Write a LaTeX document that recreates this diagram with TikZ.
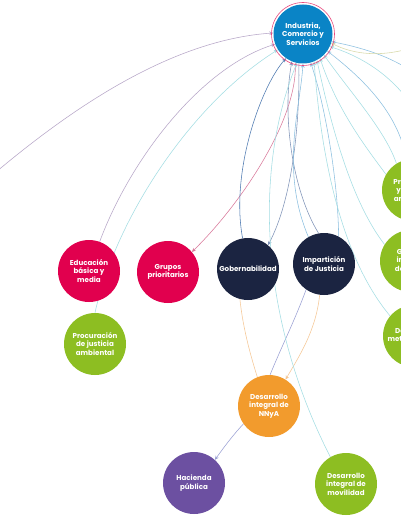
\documentclass[tikz,border=0pt]{standalone}
\usepackage{fontspec}
\setmainfont{Poppins}
\usetikzlibrary{arrows.meta,backgrounds}
\definecolor{indblue}{HTML}{0A84C6}
\definecolor{ringpink}{HTML}{E94B7E}
\definecolor{crim}{HTML}{E1004E}
\definecolor{navy}{HTML}{1B2441}
\definecolor{lgreen}{HTML}{8DBE22}
\definecolor{orng}{HTML}{F29B2D}
\definecolor{purp}{HTML}{6C50A1}
\definecolor{ecyan}{HTML}{A3DDE3}
\definecolor{eblue}{HTML}{8CC0E0}
\definecolor{elav}{HTML}{B7A6C8}
\definecolor{epink}{HTML}{D9789A}
\definecolor{edark}{HTML}{4C78B0}
\definecolor{egrey}{HTML}{7F93B8}
\definecolor{eorange}{HTML}{F6C795}
\definecolor{eviolet}{HTML}{9AA0D4}
\definecolor{eyellow}{HTML}{D8D9A8}
\tikzset{
  topic/.style={circle, minimum size=62pt, inner sep=0pt, align=center, text=white,
    font=\fontsize{7.1}{8.4}\selectfont\bfseries},
  link/.style={line width=0.55pt},
  tip/.style={-{Stealth[length=4pt,width=3.6pt]}},
}
\begin{document}
\begin{tikzpicture}[x=1pt,y=-1pt]
\useasboundingbox (0,0) rectangle (400,516);
% nodes
\node[topic, fill=indblue, minimum size=59pt] (ind) at (303,34) {Industria,\\Comercio y\\Servicios};
\draw[ringpink, line width=0.6pt] (ind.center) circle[radius=31.5pt];
\node[topic, fill=crim] (edu) at (89,271) {Educación\\básica y\\media};
\node[topic, fill=crim] (grp) at (168,272) {Grupos\\prioritarios};
\node[topic, fill=navy] (gob) at (248,269) {Gobernabilidad};
\node[topic, fill=navy] (imp) at (324,264) {Impartición\\de Justicia};
\node[topic, fill=lgreen] (proc) at (95,344) {Procuración\\de justicia\\ambiental};
\node[topic, fill=orng] (nnya) at (269,406) {Desarrollo\\integral de\\NNyA};
\node[topic, fill=purp] (hac) at (194,483) {Hacienda\\pública};
\node[topic, fill=lgreen] (mov) at (346,484) {Desarrollo\\integral de\\movilidad};
\node[topic, fill=lgreen] (pro) at (413,190) {Protección\\y gestión\\ambiental};
\node[topic, fill=lgreen] (ges) at (411,261) {Gestión\\integral\\del agua};
\node[topic, fill=lgreen] (met) at (414,336) {Desarrollo\\metropolitano};
\coordinate (offL) at (-4,172);
\coordinate (offR1) at (425,128);
\coordinate (offR2) at (432,92);
\coordinate (offR3) at (404,50);
\begin{scope}[on background layer]
  \fill[white] (0,0) rectangle (400,516);
  % left arcs
  \draw[link, tip, elav] (offL) .. controls (70,110) and (170,40) .. (ind.178);
  \draw[link, tip, elav] (edu.70) .. controls (130,160) and (200,68) .. (ind.200);
  \draw[link, tip, ecyan] (proc.north) .. controls (115,220) and (190,105) .. (ind.212);
  % to grupos
  \draw[link, tip, epink] (ind.255) .. controls (298,120) and (240,205) .. (grp.40);
  % gobernabilidad
  \draw[link, tip, edark] (gob.100) .. controls (230,170) and (262,85) .. (ind.235);
  \draw[link, tip, egrey] (ind.262) .. controls (300,125) and (292,200) .. (gob.50);
  % imparticion
  \draw[link, tip, egrey] (imp.100) .. controls (292,190) and (282,115) .. (ind.248);
  \draw[link, tip, eblue] (imp.62) .. controls (338,180) and (325,105) .. (ind.285);
  \draw[link, tip, eblue] (imp.120) .. controls (280,170) and (300,110) .. (ind.270);
  % nnya
  \draw[link, eorange] (gob.255) .. controls (243,330) and (252,360) .. (nnya.112);
  \draw[link, tip, eorange] (imp.262) .. controls (316,330) and (300,355) .. (nnya.58);
  \draw[link, eviolet] (imp.235) .. controls (295,320) and (280,350) .. (nnya.88);
  \draw[link, tip, eviolet] (nnya.215) .. controls (232,436) and (222,450) .. (hac.48);
  % movilidad
  \draw[link, tip, ecyan] (mov.120) .. controls (265,330) and (250,180) .. (ind.258);
  % right side
  \draw[link, tip, ecyan] (met.140) .. controls (345,262) and (322,170) .. (ind.292);
  \draw[link, tip, ecyan] (ges.148) .. controls (350,200) and (330,120) .. (ind.298);
  \draw[link, tip, ecyan] (pro.150) .. controls (368,150) and (338,112) .. (ind.305);
  \draw[link, tip, ecyan] (pro.122) .. controls (385,130) and (350,92) .. (ind.315);
  \draw[link, tip, eblue] (pro.102) .. controls (398,112) and (362,78) .. (ind.325);
  \draw[link, tip, ecyan] (offR1) .. controls (408,92) and (378,62) .. (ind.335);
  \draw[link, tip, eblue] (offR2) .. controls (418,70) and (385,52) .. (ind.345);
  \draw[link, tip, eyellow] (offR3) .. controls (380,56) and (355,55) .. (ind.-18);
\end{scope}
\end{tikzpicture}
\end{document}
